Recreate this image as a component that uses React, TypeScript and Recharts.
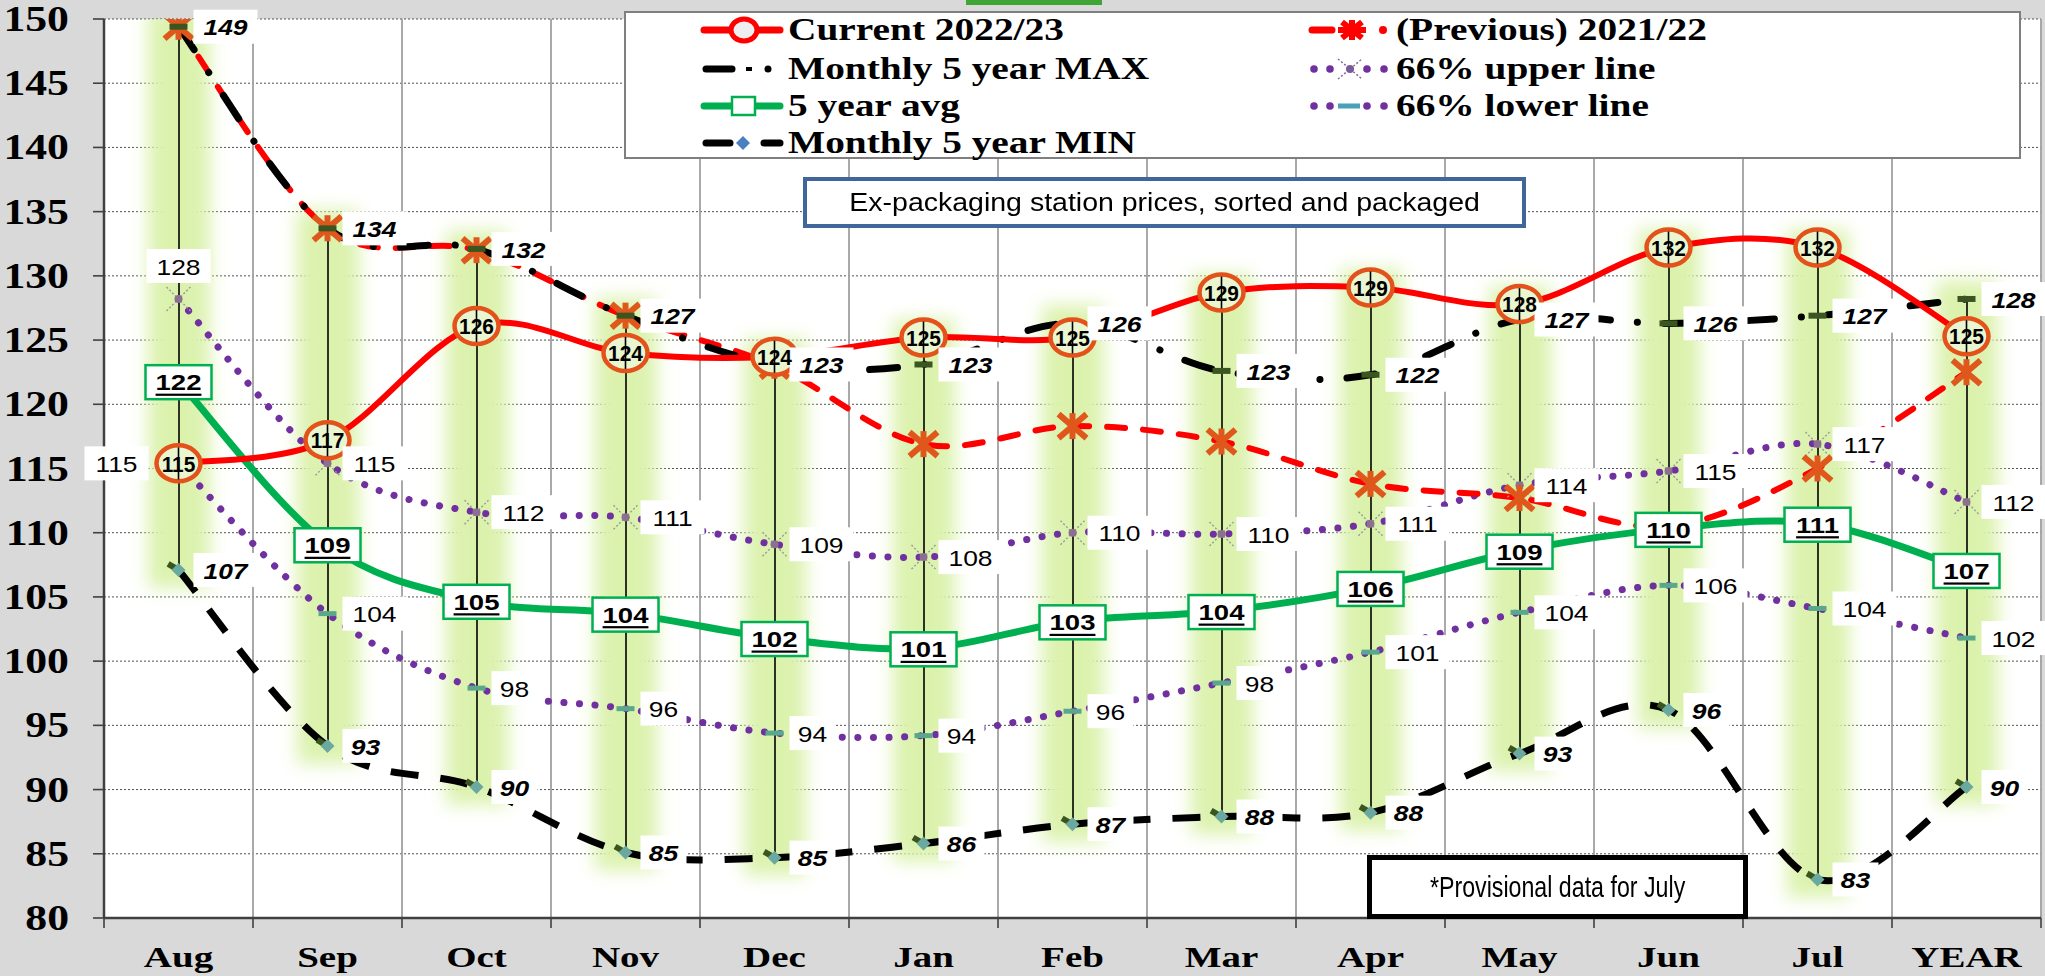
import React from 'react';
import { ComposedChart, Line, Bar, XAxis, YAxis, CartesianGrid, LabelList } from 'recharts';

const months = ['Aug', 'Sep', 'Oct', 'Nov', 'Dec', 'Jan', 'Feb', 'Mar', 'Apr', 'May', 'Jun', 'Jul', 'YEAR'];
const current2223 = [115.4, 117.2, 126.1, 124.0, 123.7, 125.2, 125.2, 128.7, 129.1, 127.8, 132.2, 132.2, 125.3];
const previous2122 = [149.4, 133.7, 132.0, 126.9, 123.0, 116.9, 118.3, 117.1, 113.8, 112.7, 110.5, 115.0, 122.5];
const max5y = [149.4, 133.7, 132.1, 126.9, 123.1, 123.1, 126.3, 122.6, 122.3, 126.6, 126.3, 126.9, 128.2];
const avg5y = [121.8, 109.1, 104.7, 103.7, 101.8, 101.0, 103.1, 103.9, 105.7, 108.6, 110.3, 110.7, 107.1];
const upper66 = [128.2, 115.4, 111.6, 111.2, 109.1, 108.1, 110.0, 109.9, 110.7, 113.7, 114.8, 116.9, 112.4];
const lower66 = [115.4, 103.7, 97.9, 96.3, 94.4, 94.2, 96.1, 98.3, 100.7, 103.8, 105.9, 104.1, 101.8];
const min5y = [107.1, 93.4, 90.2, 85.1, 84.7, 85.8, 87.3, 87.9, 88.2, 92.8, 96.2, 83.0, 90.2];
const yTicks = [80, 85, 90, 95, 100, 105, 110, 115, 120, 125, 130, 135, 140, 145, 150];

const legendLeft = ['Current 2022/23', 'Monthly 5 year MAX', '5 year avg', 'Monthly 5 year MIN'];
const legendRight = ['(Previous) 2021/22', '66% upper line', '66% lower line'];
const noteTitle = 'Ex-packaging station prices, sorted and packaged';
const noteProvisional = '*Provisional data for July';

const data = months.map((m, i) => {
  const all = [current2223[i], previous2122[i], max5y[i], avg5y[i], upper66[i], lower66[i], min5y[i]];
  return {
    month: m,
    current: current2223[i],
    previous: previous2122[i],
    max: max5y[i],
    avg: avg5y[i],
    upper: upper66[i],
    lower: lower66[i],
    min: min5y[i],
    range: [Math.min(...all), Math.max(...all)],
  };
});

const W = 2045;
const H = 976;
const M = { top: 19, right: 4, bottom: 0, left: 0 };
const YW = 104;
const XH = 58;
const BAND = (W - M.left - M.right - YW) / months.length;

const SANS = '"Liberation Sans", Arial, sans-serif';
const SERIF = '"Liberation Serif", "Times New Roman", serif';

const excelCurve: any = (context: any) => {
  let pts: number[][] = [];
  return {
    areaStart() {},
    areaEnd() {},
    lineStart() {
      pts = [];
    },
    point(x: number, y: number) {
      pts.push([+x, +y]);
    },
    lineEnd() {
      const n = pts.length;
      if (!n) return;
      context.moveTo(pts[0][0], pts[0][1]);
      if (n === 1) {
        context.lineTo(pts[0][0], pts[0][1]);
        return;
      }
      for (let i = 0; i < n - 1; i++) {
        const p0 = pts[Math.max(0, i - 1)];
        const p1 = pts[i];
        const p2 = pts[i + 1];
        const p3 = pts[Math.min(n - 1, i + 2)];
        context.bezierCurveTo(
          p1[0] + (p2[0] - p0[0]) / 6,
          p1[1] + (p2[1] - p0[1]) / 6,
          p2[0] - (p3[0] - p1[0]) / 6,
          p2[1] - (p3[1] - p1[1]) / 6,
          p2[0],
          p2[1]
        );
      }
    },
  };
};

function SText(props: any) {
  const { x, y, sx = 1, size, weight = 'normal', fstyle = 'normal', family = SANS, anchor = 'middle', underline, children, baseline = 'central' } = props;
  return (
    <text
      transform={`translate(${x},${y}) scale(${sx},1)`}
      x={0}
      y={0}
      textAnchor={anchor}
      dominantBaseline={baseline}
      fontSize={size}
      fontWeight={weight}
      fontStyle={fstyle}
      fontFamily={family}
      textDecoration={underline ? 'underline' : undefined}
      fill="#000"
    >
      {children}
    </text>
  );
}

function pt(props: any) {
  const vb = props.viewBox || {};
  const x = props.x != null ? props.x : vb.x;
  const y = props.y != null ? props.y : vb.y;
  return { x, y };
}

const GlowBand = (props: any) => {
  const { x, y, width, height, index } = props;
  if (x == null || y == null) return null;
  const cx = x + width / 2;
  const top = Math.min(y, y + height);
  const h = Math.abs(height);
  const id = `glowf${index}`;
  return (
    <g>
      <defs>
        <filter id={id} x="-100%" y="-30%" width="300%" height="160%">
          <feGaussianBlur stdDeviation="9" />
        </filter>
      </defs>
      <rect x={cx - 31} y={top - 18} width={62} height={h + 36} fill="#dbf2ad" filter={`url(#${id})`} />
      <line x1={cx} x2={cx} y1={top} y2={top + h} stroke="#000" strokeWidth={1.6} />
    </g>
  );
};

const CurrentDot = (p: any) => {
  const { cx, cy, index } = p;
  if (cx == null || cy == null) return <g key={`cd${index}`} />;
  return (
    <g key={`cd${index}`}>
      <ellipse cx={cx} cy={cy} rx={22} ry={18} fill="#e9f6cf" stroke="#e4521c" strokeWidth={4.5} />
      <line x1={cx} x2={cx} y1={cy - 16} y2={cy + 16} stroke="#000" strokeWidth={1.6} />
    </g>
  );
};

const PrevDot = (p: any) => {
  const { cx, cy, index } = p;
  if (cx == null || cy == null) return <g key={`pd${index}`} />;
  const c = '#e0571b';
  return (
    <g key={`pd${index}`} stroke={c} strokeWidth={6}>
      <line x1={cx - 14} y1={cy - 12} x2={cx + 14} y2={cy + 12} />
      <line x1={cx - 14} y1={cy + 12} x2={cx + 14} y2={cy - 12} />
      <line x1={cx} y1={cy - 13} x2={cx} y2={cy + 13} />
    </g>
  );
};

const MaxDot = (p: any) => {
  const { cx, cy, index } = p;
  if (cx == null || cy == null) return <g key={`xd${index}`} />;
  return <rect key={`xd${index}`} x={cx - 9} y={cy - 3} width={18} height={6} fill="#3b5521" />;
};

const MinDot = (p: any) => {
  const { cx, cy, index } = p;
  if (cx == null || cy == null) return <g key={`nd${index}`} />;
  return (
    <g key={`nd${index}`}>
      <rect x={cx - 12} y={cy - 3} width={12} height={6} fill="#3b5521" transform={`rotate(30 ${cx} ${cy})`} />
      <path d={`M${cx},${cy - 7} L${cx + 7},${cy} L${cx},${cy + 7} L${cx - 7},${cy} Z`} fill="#6aa8a0" />
    </g>
  );
};

const UpperDot = (p: any) => {
  const { cx, cy, index } = p;
  if (cx == null || cy == null) return <g key={`ud${index}`} />;
  return (
    <g key={`ud${index}`}>
      <g stroke="#9a9a9a" strokeWidth={1.4} strokeDasharray="2 2">
        <line x1={cx - 12} y1={cy - 12} x2={cx + 12} y2={cy + 12} />
        <line x1={cx - 12} y1={cy + 12} x2={cx + 12} y2={cy - 12} />
      </g>
      <circle cx={cx} cy={cy} r={4} fill="#8b7090" />
    </g>
  );
};

const LowerDot = (p: any) => {
  const { cx, cy, index } = p;
  if (cx == null || cy == null) return <g key={`ld${index}`} />;
  return <rect key={`ld${index}`} x={cx - 9} y={cy - 2.5} width={18} height={5} fill="#5aa88c" />;
};

const boxW = (t: string) => (t.length >= 3 ? 64 : 46);

const ExtremeLabel = (props: any) => {
  const { x, y } = pt(props);
  if (x == null || y == null || props.value == null) return null;
  const t = String(Math.round(props.value));
  const w = boxW(t);
  const bx = x + 15;
  return (
    <g>
      <rect x={bx} y={y - 17} width={w} height={34} fill="#fff" />
      <SText x={bx + w / 2} y={y + 1} sx={1.2} size={22} weight="bold" fstyle="italic">{t}</SText>
    </g>
  );
};

const BandLabel = (props: any) => {
  const { x, y } = pt(props);
  if (x == null || y == null || props.value == null) return null;
  const t = String(Math.round(props.value));
  const w = boxW(t);
  const pos = props.pos;
  let cx = x + 15 + w / 2;
  let cy = y;
  if (props.index === 0 && pos === 'upper') {
    cx = x;
    cy = y - 33;
  } else if (props.index === 0 && pos === 'lower') {
    cx = x - 62;
  }
  return (
    <g>
      <rect x={cx - w / 2} y={cy - 17} width={w} height={34} fill="#fff" />
      <SText x={cx} y={cy + 1} sx={1.2} size={22}>{t}</SText>
    </g>
  );
};

const AvgLabel = (props: any) => {
  const { x, y } = pt(props);
  if (x == null || y == null || props.value == null) return null;
  const t = String(Math.round(props.value));
  return (
    <g>
      <rect x={x - 33} y={y - 16} width={66} height={34} fill="#fff" stroke="#00b050" strokeWidth={2.5} />
      <SText x={x} y={y + 1} sx={1.25} size={22} weight="bold" underline>{t}</SText>
    </g>
  );
};

const CurrentLabel = (props: any) => {
  const { x, y } = pt(props);
  if (x == null || y == null || props.value == null) return null;
  const t = String(Math.round(props.value));
  return (
    <SText x={x} y={y + 1} sx={0.95} size={22} weight="bold">{t}</SText>
  );
};

const XTick = (props: any) => {
  const { x, y, payload, index } = props;
  const left = x - BAND / 2;
  return (
    <g>
      <line x1={left} x2={left} y1={y} y2={y + 10} stroke="#404040" strokeWidth={1.6} />
      {index === months.length - 1 ? (
        <line x1={x + BAND / 2} x2={x + BAND / 2} y1={y} y2={y + 10} stroke="#404040" strokeWidth={1.6} />
      ) : null}
      <SText x={x} y={y + 49} sx={1.3} size={30} weight="bold" family={SERIF} baseline="auto">{payload.value}</SText>
    </g>
  );
};

const YTick = (props: any) => {
  const { x, y, payload } = props;
  return (
    <g>
      <line x1={x - 11} x2={x} y1={y} y2={y} stroke="#404040" strokeWidth={1.6} />
      <SText x={x - 35} y={y + 12} sx={1.25} size={35} weight="bold" family={SERIF} anchor="end" baseline="auto">{payload.value}</SText>
    </g>
  );
};

const legendTextStyle = { fontFamily: SERIF, fontWeight: 'bold', fontSize: 31 };

function LegendBox() {
  const rows = [17, 56, 93, 130];
  const t = (x: number, y: number, s: string) => (
    <text transform={`translate(${x},${y + 10}) scale(1.27,1)`} {...(legendTextStyle as any)} fill="#000">{s}</text>
  );
  return (
    <div
      style={{
        position: 'absolute',
        left: 624,
        top: 11,
        width: 1397,
        height: 148,
        background: '#fff',
        border: '2px solid #7f7f7f',
        boxSizing: 'border-box',
      }}
    >
      <svg width={1393} height={144} style={{ position: 'absolute', left: 0, top: 0, overflow: 'visible' }}>
        <line x1={78} x2={154} y1={rows[0]} y2={rows[0]} stroke="#ff0000" strokeWidth={7} strokeLinecap="round" />
        <ellipse cx={118} cy={rows[0]} rx={13} ry={11} fill="#eeeeee" stroke="#ff0000" strokeWidth={5} />
        {t(162, rows[0], legendLeft[0])}
        <line x1={80} x2={106} y1={rows[1]} y2={rows[1]} stroke="#000" strokeWidth={7} strokeLinecap="round" />
        <line x1={120} x2={126} y1={rows[1]} y2={rows[1]} stroke="#000" strokeWidth={4} />
        <circle cx={142} cy={rows[1]} r={3.5} fill="#000" />
        {t(162, rows[1], legendLeft[1])}
        <line x1={78} x2={154} y1={rows[2]} y2={rows[2]} stroke="#00b050" strokeWidth={7} strokeLinecap="round" />
        <rect x={106} y={rows[2] - 9} width={23} height={18} fill="#fff" stroke="#00b050" strokeWidth={2.5} />
        {t(162, rows[2], legendLeft[2])}
        <line x1={80} x2={104} y1={rows[3]} y2={rows[3]} stroke="#000" strokeWidth={7} strokeLinecap="round" />
        <path d={`M117,${rows[3] - 7} L124,${rows[3]} L117,${rows[3] + 7} L110,${rows[3]} Z`} fill="#4a7fc1" />
        <line x1={138} x2={154} y1={rows[3]} y2={rows[3]} stroke="#000" strokeWidth={7} strokeLinecap="round" />
        {t(162, rows[3], legendLeft[3])}
        <line x1={686} x2={706} y1={rows[0]} y2={rows[0]} stroke="#ff0000" strokeWidth={7} strokeLinecap="round" />
        <g stroke="#ff0000" strokeWidth={6}>
          <line x1={716} y1={rows[0] - 8} x2={736} y2={rows[0] + 8} />
          <line x1={716} y1={rows[0] + 8} x2={736} y2={rows[0] - 8} />
          <line x1={726} y1={rows[0] - 10} x2={726} y2={rows[0] + 10} />
          <line x1={712} y1={rows[0]} x2={740} y2={rows[0]} />
        </g>
        <circle cx={757} cy={rows[0]} r={4} fill="#ff0000" />
        {t(770, rows[0], legendRight[0])}
        {[688, 704, 741, 758].map((cx) => (
          <circle key={`u${cx}`} cx={cx} cy={rows[1]} r={3.8} fill="#7030a0" />
        ))}
        <g stroke="#8064a2" strokeWidth={1.4} strokeDasharray="2 2">
          <line x1={712} y1={rows[1] - 10} x2={736} y2={rows[1] + 10} />
          <line x1={712} y1={rows[1] + 10} x2={736} y2={rows[1] - 10} />
        </g>
        <circle cx={724} cy={rows[1]} r={4} fill="#7a5a98" />
        {t(770, rows[1], legendRight[1])}
        {[688, 704, 741, 758].map((cx) => (
          <circle key={`l${cx}`} cx={cx} cy={rows[2]} r={3.8} fill="#7030a0" />
        ))}
        <rect x={712} y={rows[2] - 2.5} width={22} height={5} fill="#4aa0b5" />
        {t(770, rows[2], legendRight[2])}
      </svg>
    </div>
  );
}

export default function App() {
  return (
    <div style={{ position: 'absolute', left: 0, top: 0, width: W, height: H, background: '#d9d9d9', overflow: 'hidden' }}>
      <ComposedChart width={W} height={H} data={data} margin={M}>
        <CartesianGrid vertical={false} stroke="#505050" strokeDasharray="2 2" fill="#ffffff" />
        <CartesianGrid
          horizontal={false}
          stroke="#a0a0a0"
          strokeWidth={1.8}
          verticalCoordinatesGenerator={(p: any) => {
            const o = p.offset;
            return months.map((_, k) => o.left + (k + 1) * (o.width / months.length));
          }}
        />
        <XAxis
          dataKey="month"
          interval={0}
          height={XH}
          axisLine={{ stroke: '#404040', strokeWidth: 2.5 }}
          tickLine={false}
          tickSize={0}
          tickMargin={0}
          tick={<XTick />}
        />
        <YAxis
          type="number"
          domain={[80, 150]}
          ticks={yTicks}
          interval={0}
          width={YW}
          allowDataOverflow
          axisLine={{ stroke: '#404040', strokeWidth: 2.5 }}
          tickLine={false}
          tickSize={0}
          tickMargin={0}
          tick={<YTick />}
        />
        <Bar dataKey="range" barSize={60} shape={<GlowBand />} isAnimationActive={false} />
        <Line dataKey="lower" type={excelCurve} stroke="#7030a0" strokeWidth={7} strokeDasharray="0.1 15.5" strokeLinecap="round" dot={<LowerDot />} activeDot={false} isAnimationActive={false} />
        <Line dataKey="upper" type={excelCurve} stroke="#7030a0" strokeWidth={7} strokeDasharray="0.1 15.5" strokeLinecap="round" dot={<UpperDot />} activeDot={false} isAnimationActive={false} />
        <Line dataKey="avg" type={excelCurve} stroke="#00b050" strokeWidth={7} dot={false} activeDot={false} isAnimationActive={false} />
        <Line dataKey="min" type={excelCurve} stroke="#000" strokeWidth={7} strokeDasharray="28 22" dot={<MinDot />} activeDot={false} isAnimationActive={false} />
        <Line dataKey="previous" type={excelCurve} stroke="#ff0000" strokeWidth={6} strokeDasharray="18 18" strokeLinecap="round" dot={<PrevDot />} activeDot={false} isAnimationActive={false} />
        <Line dataKey="max" type={excelCurve} stroke="#000" strokeWidth={7} strokeDasharray="28 27 0.1 27" strokeLinecap="round" dot={<MaxDot />} activeDot={false} isAnimationActive={false} />
        <Line dataKey="current" type={excelCurve} stroke="#ff0000" strokeWidth={6} dot={<CurrentDot />} activeDot={false} isAnimationActive={false} />
        <Line dataKey="upper" stroke="none" dot={false} activeDot={false} isAnimationActive={false}>
          <LabelList dataKey="upper" content={<BandLabel pos="upper" />} />
        </Line>
        <Line dataKey="lower" stroke="none" dot={false} activeDot={false} isAnimationActive={false}>
          <LabelList dataKey="lower" content={<BandLabel pos="lower" />} />
        </Line>
        <Line dataKey="max" stroke="none" dot={false} activeDot={false} isAnimationActive={false}>
          <LabelList dataKey="max" content={<ExtremeLabel />} />
        </Line>
        <Line dataKey="min" stroke="none" dot={false} activeDot={false} isAnimationActive={false}>
          <LabelList dataKey="min" content={<ExtremeLabel />} />
        </Line>
        <Line dataKey="avg" stroke="none" dot={false} activeDot={false} isAnimationActive={false}>
          <LabelList dataKey="avg" content={<AvgLabel />} />
        </Line>
        <Line dataKey="current" stroke="none" dot={false} activeDot={false} isAnimationActive={false}>
          <LabelList dataKey="current" content={<CurrentLabel />} />
        </Line>
      </ComposedChart>
      <div style={{ position: 'absolute', left: 966, top: 0, width: 136, height: 5, background: '#3fa535' }} />
      <LegendBox />
      <div
        style={{
          position: 'absolute',
          left: 803,
          top: 177,
          width: 723,
          height: 51,
          background: '#fff',
          border: '4px solid #41679a',
          boxSizing: 'border-box',
          display: 'flex',
          alignItems: 'center',
          justifyContent: 'center',
          fontFamily: SANS,
          fontSize: 25,
          color: '#000',
          whiteSpace: 'nowrap',
        }}
      >
        <span style={{ display: 'inline-block', transform: 'scaleX(1.14)' }}>{noteTitle}</span>
      </div>
      <div
        style={{
          position: 'absolute',
          left: 1367,
          top: 855,
          width: 381,
          height: 64,
          background: '#fff',
          border: '5px solid #000',
          boxSizing: 'border-box',
          display: 'flex',
          alignItems: 'center',
          justifyContent: 'center',
          fontFamily: SANS,
          fontSize: 29,
          color: '#000',
          whiteSpace: 'nowrap',
        }}
      >
        <span style={{ display: 'inline-block', transform: 'scaleX(0.8)' }}>{noteProvisional}</span>
      </div>
    </div>
  );
}
